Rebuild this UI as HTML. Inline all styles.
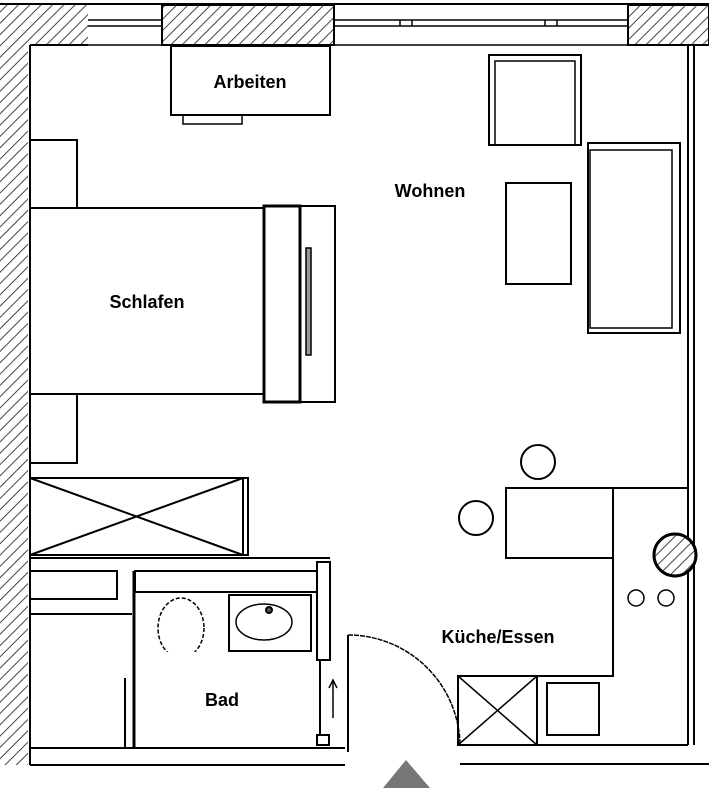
<!DOCTYPE html><html><head><style>body{margin:0;background:#fff}svg{display:block}text{font-family:"Liberation Sans",sans-serif;font-weight:bold;font-size:18px;text-anchor:middle}</style></head><body>
<svg width="709" height="788" viewBox="0 0 709 788">
<defs><pattern id="h" patternUnits="userSpaceOnUse" width="8" height="8" patternTransform="rotate(45)"><rect width="8" height="8" fill="#fff"/><line x1="0" y1="0" x2="0" y2="8" stroke="#444" stroke-width="2"/></pattern></defs>
<g stroke="#000" stroke-width="2" fill="none">
<line x1="0" y1="4" x2="709" y2="4"/>
<rect x="0" y="5" width="88" height="40" fill="url(#h)" stroke="none"/>
<rect x="162" y="5" width="172" height="40" fill="url(#h)"/>
<rect x="628" y="5" width="81" height="40" fill="url(#h)"/>
<rect x="0" y="45" width="28" height="720" fill="url(#h)" stroke="none"/>
<line x1="30" y1="45" x2="30" y2="765"/><line x1="30" y1="45" x2="88" y2="45"/>
<g stroke-width="1.5"><line x1="88" y1="20" x2="162" y2="20"/><line x1="88" y1="26" x2="162" y2="26"/><line x1="334" y1="20" x2="628" y2="20"/><line x1="334" y1="26" x2="628" y2="26"/><line x1="88" y1="45" x2="162" y2="45"/><line x1="334" y1="45" x2="628" y2="45"/>
<line x1="400" y1="20" x2="400" y2="26"/><line x1="412" y1="20" x2="412" y2="26"/><line x1="545" y1="20" x2="545" y2="26"/><line x1="557" y1="20" x2="557" y2="26"/></g>
<line x1="688" y1="45" x2="688" y2="745"/><line x1="694" y1="45" x2="694" y2="745"/>
<line x1="30" y1="748" x2="345" y2="748"/><line x1="30" y1="765" x2="345" y2="765"/><line x1="460" y1="764" x2="709" y2="764"/>
<rect x="171" y="46" width="159" height="69"/><rect x="183" y="115" width="59" height="9" stroke-width="1.5"/>
<rect x="489" y="55" width="92" height="90"/><rect x="495" y="61" width="80" height="84" stroke-width="1.5"/>
<rect x="506" y="183" width="65" height="101"/>
<rect x="588" y="143" width="92" height="190"/><rect x="590" y="150" width="82" height="178" stroke-width="1.5"/>
<rect x="30" y="140" width="47" height="68"/><rect x="30" y="394" width="47" height="69"/>
<rect x="30" y="208" width="234" height="186"/>
<rect x="264" y="206" width="36" height="196" stroke-width="3"/><rect x="300" y="206" width="35" height="196"/>
<rect x="306" y="248" width="5" height="107" fill="#999" stroke-width="1.5"/>
<rect x="30" y="478" width="213" height="77"/><line x1="30" y1="478" x2="243" y2="555"/><line x1="30" y1="555" x2="243" y2="478"/><rect x="243" y="478" width="5" height="77"/>
<line x1="30" y1="558" x2="330" y2="558"/>
<rect x="30" y="571" width="87" height="28"/><rect x="135" y="571" width="182" height="21"/>
<line x1="134" y1="571" x2="134" y2="748" stroke-width="3"/><line x1="125" y1="678" x2="125" y2="748"/>
<rect x="30" y="614" width="100" height="134" stroke="none"/><line x1="30" y1="614" x2="132" y2="614"/>
<ellipse cx="181" cy="628" rx="23" ry="30" stroke-dasharray="4 2" stroke-width="1.5"/>
<rect x="148" y="652" width="60" height="14" fill="#fff" stroke="none"/>
<rect x="229" y="595" width="82" height="56"/><ellipse cx="264" cy="622" rx="28" ry="18" stroke-width="1.5"/><circle cx="269" cy="610" r="3" fill="#555"/>
<rect x="317" y="562" width="13" height="98"/><line x1="320" y1="660" x2="320" y2="735"/>
<line x1="333" y1="718" x2="333" y2="680" stroke-width="1.5"/><path d="M329,688 L333,680 L337,688" stroke-width="1.5"/>
<rect x="317" y="735" width="12" height="10"/>
<line x1="348" y1="635" x2="348" y2="752"/>
<path d="M348,635 A112,112 0 0 1 460,745" stroke-width="1.5" stroke-dasharray="5 1"/>
<polyline points="458,676 613,676 613,488 688,488"/>
<rect x="506" y="488" width="107" height="70"/>
<circle cx="538" cy="462" r="17"/><circle cx="476" cy="518" r="17"/>
<circle cx="675" cy="555" r="21" fill="url(#h)" stroke-width="3"/>
<circle cx="636" cy="598" r="8" stroke-width="1.5"/><circle cx="666" cy="598" r="8" stroke-width="1.5"/>
<rect x="458" y="676" width="79" height="69"/><line x1="458" y1="676" x2="537" y2="745" stroke-width="1.5"/><line x1="458" y1="745" x2="537" y2="676" stroke-width="1.5"/>
<rect x="547" y="683" width="52" height="52"/>
<line x1="458" y1="745" x2="688" y2="745"/>
</g>
<polygon points="406,760 383,788 430,788" fill="#777"/>
<text x="250" y="88">Arbeiten</text><text x="430" y="197">Wohnen</text><text x="147" y="308">Schlafen</text><text x="222" y="706">Bad</text><text x="498" y="643">Küche/Essen</text>
</svg></body></html>
